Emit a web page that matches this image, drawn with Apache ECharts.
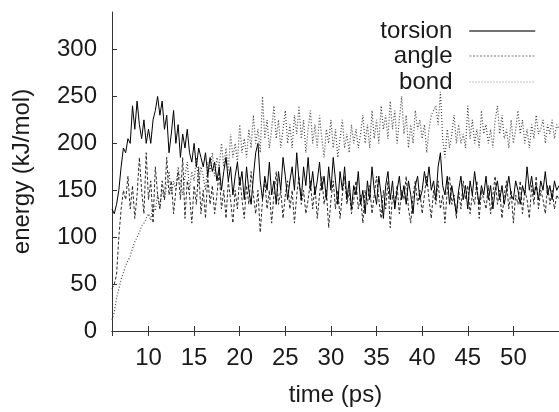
<!DOCTYPE html>
<html>
<head>
<meta charset="utf-8">
<script src="https://cdn.jsdelivr.net/npm/echarts@6/dist/echarts.min.js"></script>
<style>
html,body{margin:0;padding:0;background:#fff;}
#chart{width:559px;height:412px;}
</style>
</head>
<body>
<div id="chart"></div>
<script>
// sampling grid of the time axis (ps)
const timeStart = 6;
const timeStep = 0.25;

const seriesNames = ['torsion', 'angle', 'bond'];

const torsion = [
  130,125,135,150,
  175,195,190,205,
  200,240,215,245,
  220,205,225,200,
  215,200,225,235,
  250,230,245,215,
  230,190,210,235,
  200,220,185,210,
  195,215,190,180,
  200,175,195,185,
  175,190,165,185,
  170,180,160,175,
  150,170,185,160,
  175,145,165,180,
  155,170,140,175,
  150,135,165,190,
  200,160,140,165,
  150,180,145,160,
  135,170,150,185,
  165,140,160,175,
  150,190,160,140,
  175,155,185,150,
  170,145,160,180,
  150,165,140,175,
  150,185,160,135,
  170,150,175,140,
  160,130,155,145,
  170,135,150,125,
  160,140,175,150,
  135,165,145,120,
  155,170,140,160,
  130,150,165,140,
  155,135,160,145,
  125,155,165,140,
  150,170,155,175,
  150,160,140,175,
  190,155,145,165,
  135,155,140,125,
  150,165,140,155,
  130,160,145,170,
  150,135,155,145,
  165,140,155,130,
  150,160,140,155,
  135,150,165,145,
  140,160,150,135,
  155,145,175,150,
  165,145,155,140,
  160,150,170,145,
  155,140,160,150,
  155
];

const angle = [
  45,50,60,100,
  130,150,140,165,
  130,155,120,145,
  185,150,125,190,
  140,160,115,175,
  145,130,160,140,
  185,145,160,125,
  150,170,140,185,
  120,160,145,115,
  155,135,175,125,
  150,120,165,135,
  155,125,145,170,
  130,150,120,160,
  140,115,150,130,
  165,140,120,155,
  135,170,145,125,
  150,105,140,160,
  130,150,115,145,
  170,135,150,120,
  145,160,130,150,
  115,145,165,135,
  150,125,140,160,
  130,155,120,145,
  165,135,150,110,
  140,160,130,150,
  120,145,165,135,
  150,125,140,160,
  130,145,115,150,
  135,155,125,145,
  165,140,120,150,
  130,160,110,145,
  135,155,125,150,
  140,165,130,115,
  145,160,135,150,
  125,145,165,140,
  120,150,135,160,
  130,145,115,150,
  165,135,145,120,
  150,130,160,140,
  155,125,145,135,
  160,120,150,140,
  130,155,125,145,
  165,135,150,120,
  145,160,130,150,
  115,145,135,160,
  125,150,140,120,
  155,135,165,130,
  150,140,125,155,
  135,150,130,145,
  140
];

const bond = [
  12,20,35,45,
  55,62,70,75,
  80,88,95,100,
  105,112,115,120,
  125,118,135,128,
  145,130,150,140,
  155,170,145,160,
  150,175,160,145,
  165,180,150,170,
  160,185,155,175,
  165,150,180,170,
  190,165,185,175,
  200,175,195,170,
  210,185,200,180,
  220,190,205,185,
  215,195,230,200,
  215,190,250,205,
  225,195,215,240,
  205,225,195,215,
  235,200,220,195,
  230,210,240,205,
  225,190,215,235,
  200,220,195,230,
  205,185,215,200,
  225,195,215,185,
  205,225,195,210,
  190,220,200,215,
  195,210,230,200,
  220,195,235,205,
  225,200,240,215,
  230,205,245,215,
  235,200,225,250,
  210,230,195,220,
  200,235,215,225,
  205,220,190,215,
  230,235,240,220,
  255,205,185,215,
  195,210,230,200,
  220,200,210,195,
  240,205,225,200,
  215,195,235,210,
  220,200,215,195,
  225,240,210,230,
  205,215,195,225,
  200,215,235,210,
  225,200,215,195,
  220,205,230,210,
  215,225,200,220,
  210,225,205,220,
  215
];

function toPairs(values) {
  return values.map((v, i) => [timeStart + i * timeStep, v]);
}

const FONT = 'Liberation Sans, Arial, Helvetica, sans-serif';
const TXT = '#1a1a1a';
const AX = '#333';

const chart = echarts.init(document.getElementById('chart'), null, {renderer: 'canvas'});

const styles = [
  {color: '#000000', type: 'solid', width: 1},
  {color: '#2a2a2a', type: [3, 2], width: 1},
  {color: '#444444', type: [1, 2], width: 1.2}
];
const legendLines = [
  {color: '#444444', type: 'solid', width: 1.5},
  {color: '#777777', type: [2, 1.5], width: 1},
  {color: '#888888', type: [1, 2], width: 1}
];
const datasets = [torsion, angle, bond];

function legendFor(i, top) {
  return {
    data: [seriesNames[i]],
    orient: 'vertical',
    align: 'right',
    right: 23,
    top: top,
    itemWidth: 66,
    itemHeight: 14,
    padding: 0,
    itemStyle: {opacity: 0},
    lineStyle: legendLines[i],
    textStyle: {fontSize: 24, fontFamily: FONT, color: TXT, padding: [0, 12, 0, 0]}
  };
}

const option = {
  animation: false,
  backgroundColor: '#fff',
  grid: {left: 112, top: 12, width: 464, height: 322, containLabel: false},
  legend: [legendFor(0, 19), legendFor(1, 44), legendFor(2, 70)],
  xAxis: [{
    type: 'value',
    min: 6,
    max: 55,
    splitNumber: 10,
    name: 'time (ps)',
    nameLocation: 'middle',
    nameGap: 52,
    nameTextStyle: {fontSize: 24, fontFamily: FONT, color: TXT},
    axisLine: {show: true, onZero: false, lineStyle: {color: AX, width: 1}},
    axisTick: {show: true, inside: true, length: 5, lineStyle: {color: AX}},
    axisLabel: {fontSize: 24, fontFamily: FONT, color: TXT, margin: 15, showMinLabel: false, showMaxLabel: false},
    splitLine: {show: false}
  }, {
    type: 'value',
    position: 'top',
    min: 6,
    max: 55,
    splitNumber: 10,
    axisLine: {show: true, lineStyle: {color: AX, width: 1}},
    axisTick: {show: true, inside: true, length: 5, lineStyle: {color: AX}},
    axisLabel: {show: false},
    splitLine: {show: false}
  }],
  yAxis: {
    type: 'value',
    min: 0,
    max: 340,
    interval: 50,
    name: 'energy (kJ/mol)',
    nameLocation: 'middle',
    nameGap: 78,
    nameTextStyle: {fontSize: 24, fontFamily: FONT, color: TXT},
    axisLine: {show: true, onZero: false, lineStyle: {color: AX, width: 1}},
    axisTick: {show: true, inside: true, length: 5, lineStyle: {color: AX}},
    axisLabel: {fontSize: 24, fontFamily: FONT, color: TXT, margin: 15, showMaxLabel: false},
    splitLine: {show: false}
  },
  series: seriesNames.map((name, i) => ({
    name: name,
    type: 'line',
    xAxisIndex: 0,
    data: toPairs(datasets[i]),
    symbol: 'none',
    showSymbol: false,
    lineStyle: styles[i],
    itemStyle: {color: styles[i].color},
    z: 3 - i
  }))
};

chart.setOption(option);
</script>
</body>
</html>
